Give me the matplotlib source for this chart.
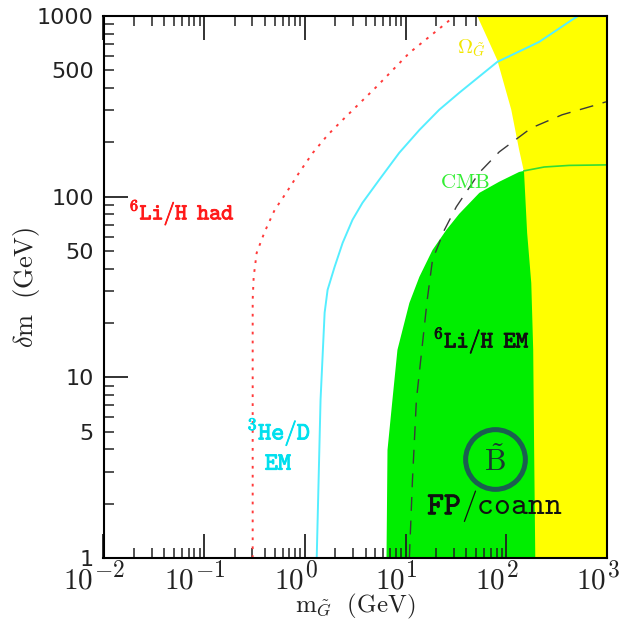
import matplotlib
matplotlib.use("Agg")
import matplotlib.pyplot as plt
import matplotlib.patheffects as pe
from matplotlib.ticker import LogLocator, FuncFormatter, NullFormatter
from matplotlib.transforms import offset_copy, blended_transform_factory
import numpy as np

plt.rcParams['mathtext.fontset'] = 'cm'

# Axis ranges and tick labels
x_range = (1e-2, 1e3)
y_range = (1, 1000)
x_decades = [-2, -1, 0, 1, 2, 3]
y_major_labels = [1, 10, 100, 1000]
y_minor_labels = [5, 50, 500]

# 6Li/H hadronic bound (red dotted)
li_had_m = [0.303, 0.303, 0.303, 0.310, 0.332, 0.398, 0.501, 0.659, 0.885, 1.20, 1.69, 2.37, 5.14, 10.9, 25.4, 30.5]
li_had_dm = [1, 17.6, 26.9, 36.0, 48.9, 63.8, 84.5, 106, 137, 175, 220, 266, 406, 625, 916, 1000]

# 3He/D electromagnetic bound (cyan)
he_em_m = [1.31, 1.43, 1.57, 1.68, 1.97, 2.37, 2.97, 3.73, 5.47, 8.65, 13.7, 21.6, 34.1, 81.3, 212, 450, 516]
he_em_dm = [1, 7.5, 22.8, 30.5, 40.8, 55.5, 74.5, 92.5, 124, 175, 234, 303, 376, 557, 719, 953, 1000]

# 6Li/H electromagnetic bound (black dashed)
li_em_m = [10.9, 11.7, 12.8, 16.4, 18.5, 24.3, 31.9, 54.0, 85.1, 177, 358, 778, 977]
li_em_dm = [1, 2.70, 7.50, 26.9, 44.7, 65.5, 87.9, 136, 177, 240, 284, 322, 335]

# CMB excluded region: left edge, then the flat upper edge
cmb_edge_m = [6.46, 6.61, 7.40, 8.30, 10.9, 13.7, 18.5, 25.4, 34.1, 54.0, 85.1, 134, 150]
cmb_edge_dm = [1, 3.96, 7.50, 14.2, 25.8, 36.0, 50.7, 65.5, 80.4, 105, 121, 137, 139]
cmb_top_m = [150, 238, 421, 1000]
cmb_top_dm = [139, 146, 149, 150]

# Relic density (Omega_G) excluded region, left edge from top to bottom
omega_edge_m = [51.5, 64.7, 81.3, 112, 134, 150, 161, 177, 185, 189, 194]
omega_edge_dm = [1000, 757, 571, 303, 182, 137, 63.1, 33.3, 14.2, 3.96, 1]

# Bino FP/coannihilation marker
bino_m = 77.6
bino_dm = 3.53

fig = plt.figure(figsize=(6.25, 6.21), dpi=100)
ax = fig.add_axes([0.1656, 0.1014, 0.8056, 0.8728])
ax.set_xscale('log')
ax.set_yscale('log')
ax.set_xlim(*x_range)
ax.set_ylim(*y_range)

green = '#00ee00'
yellow = '#ffff00'

# CMB region (green), closed to the right edge; yellow overlays it
gx = cmb_edge_m + cmb_top_m[1:] + [x_range[1]]
gy = cmb_edge_dm + cmb_top_dm[1:] + [y_range[0]]
ax.fill(gx, gy, color=green, lw=0, zorder=1)

# Omega region (yellow)
yx = omega_edge_m + [x_range[1], x_range[1]]
yy = omega_edge_dm + [y_range[0], y_range[1]]
ax.fill(yx, yy, color=yellow, lw=0, zorder=2)

# CMB boundary continuing through the yellow region
ax.plot(cmb_top_m, cmb_top_dm, color='#33dd33', lw=1.2, zorder=3)

# BBN bounds
ax.plot(li_had_m, li_had_dm, color='#ff3a3a', lw=1.4, ls=(0, (1.4, 3.2)), zorder=4)
ax.plot(he_em_m, he_em_dm, color='#55eeff', lw=1.4, zorder=4)
ax.plot(li_em_m, li_em_dm, color='#3a3a3a', lw=1.0, ls=(0, (10, 7)), zorder=4)

# Bino marker
ax.plot([bino_m], [bino_dm], marker='o', ms=43, mfc='none', mec='#1b5e50', mew=3.6, zorder=5)
ax.text(bino_m, bino_dm * 0.97, r'$\tilde{\mathrm{B}}$', fontsize=22, ha='center', va='center',
        color='#1a3a30', zorder=6)


def label(x, y, s, color, size, bold=True, **kw):
    t = ax.text(x, y, s, color=color, fontsize=size, va='center', zorder=6, **kw)
    if bold:
        t.set_path_effects([pe.withStroke(linewidth=0.6, foreground=color)])
    return t


label(0.0179, 81.5, r'$^{6}\mathtt{Li/H}\enspace\mathtt{had}$', '#ff1a1a', 16.5, ha='left')
label(0.264, 5.0, r'$^{3}\mathtt{He/D}$', '#00e0ee', 18, ha='left')
label(0.55, 3.36, r'$\mathtt{EM}$', '#00e0ee', 18, ha='center')
label(18.8, 16.1, r'$^{6}\mathtt{Li/H}\enspace\mathtt{EM}$', '#111111', 17, ha='left')

# "FP" in bold followed by "/coann" in the same monospaced cells
fp_size = 23
fp_x, fp_y = 16.4, 1.94
label(fp_x, fp_y, r'$\mathtt{FP}$', '#111111', fp_size, ha='left')
ax.text(fp_x, fp_y, r'$\mathtt{/coann}$', color='#111111', fontsize=fp_size,
        ha='left', va='center', zorder=6,
        transform=offset_copy(ax.transData, fig=fig, x=2 * 0.525 * fp_size, y=0, units='points'))

ax.text(32.7, 667, r'$\Omega_{\tilde{G}}$', color='#f2e600', fontsize=15,
        ha='left', va='center', zorder=6)
ax.text(22.0, 120, r'$\mathrm{CMB}$', color='#33ee33', fontsize=15,
        ha='left', va='center', zorder=6)

# Axes styling
for s in ax.spines.values():
    s.set_linewidth(1.5)
    s.set_zorder(7)

ax.xaxis.set_major_locator(LogLocator(base=10, numticks=20))
ax.xaxis.set_minor_locator(LogLocator(base=10, subs=np.arange(2, 10), numticks=20))
ax.yaxis.set_major_locator(LogLocator(base=10, numticks=20))
ax.yaxis.set_minor_locator(LogLocator(base=10, subs=np.arange(2, 10), numticks=20))
ax.xaxis.set_major_formatter(NullFormatter())
ax.xaxis.set_minor_formatter(NullFormatter())


def y_major(v, p):
    iv = int(round(v))
    return str(iv) if iv in y_major_labels else ''


def y_minor(v, p):
    iv = int(round(v))
    return str(iv) if abs(v - iv) < 1e-6 and iv in y_minor_labels else ''


ax.yaxis.set_major_formatter(FuncFormatter(y_major))
ax.yaxis.set_minor_formatter(FuncFormatter(y_minor))

ax.tick_params(which='both', direction='in', top=True, right=True, colors='#222222')
ax.tick_params(which='major', length=17, width=1.3)
ax.tick_params(which='minor', length=7, width=1.1)
ax.tick_params(axis='y', which='both', labelsize=16, pad=7)
for lab in ax.get_yticklabels(which='both'):
    lab.set_family('DejaVu Sans')

# Decade labels on x: large base "10" with a large exponent
base_size, exp_size = 21, 17
xt = blended_transform_factory(ax.transData, ax.transAxes)
for e in x_decades:
    exp_txt = r'$%d$' % e
    exp_w = 0.5 * exp_size * len(str(abs(e))) + (0.778 * exp_size if e < 0 else 0)
    dx = 3.6 - exp_w / 2
    ax.text(10.0 ** e, -0.0554, r'$10$', fontsize=base_size, ha='right', va='baseline',
            color='#222222', clip_on=False,
            transform=offset_copy(xt, fig=fig, x=dx, y=0, units='points'))
    ax.text(10.0 ** e, -0.0554, exp_txt, fontsize=exp_size, ha='left', va='baseline',
            color='#222222', clip_on=False,
            transform=offset_copy(xt, fig=fig, x=dx + 0.5, y=8, units='points'))

ax.set_ylabel(r'$\delta\mathrm{m\ \ (GeV)}$', fontsize=19, color='#222222')
ax.yaxis.set_label_coords(-0.122, 0.5)
ax.set_xlabel(r'$\mathrm{m}_{\tilde{G}}\ \ \mathrm{(GeV)}$', fontsize=18, color='#222222')
ax.xaxis.set_label_coords(0.5, -0.062)

fig.savefig('out.png', dpi=100)
